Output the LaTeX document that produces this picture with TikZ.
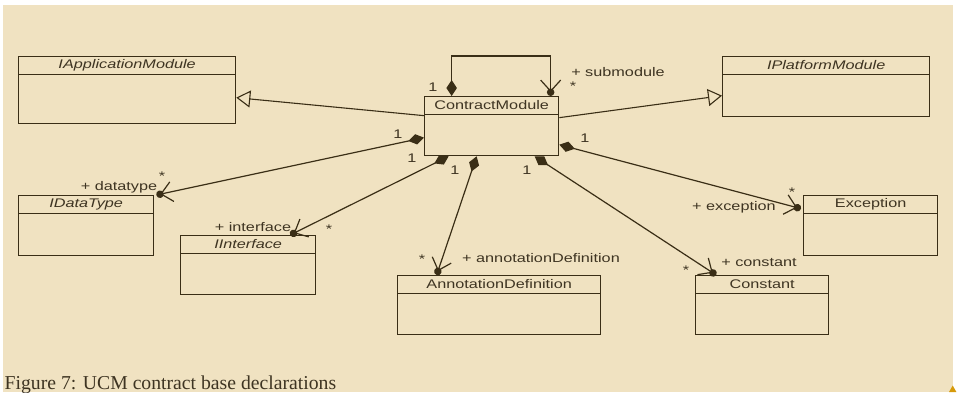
\documentclass[tikz,border=0pt]{standalone}
\usepackage{fontspec}
\setmainfont{Liberation Serif}
\newfontfamily\umlfont[FakeStretch=1.3]{Liberation Sans}
\usepackage{xcolor}
\usepackage{tikz}
\usetikzlibrary{arrows.meta,positioning,calc}

\definecolor{bgc}{RGB}{240,226,193}
\definecolor{linec}{RGB}{58,46,22}
\definecolor{textc}{RGB}{62,52,34}
\definecolor{markc}{RGB}{214,154,10}

\tikzset{
  umlbox/.style={draw=linec, line width=1.3pt, anchor=north west, inner sep=0pt,
    path picture={\draw[linec, line width=1.1pt]
      ([yshift=-18pt]path picture bounding box.north west) --
      ([yshift=-18pt]path picture bounding box.north east);}},
  umltitle/.style={anchor=north, minimum height=18pt, inner sep=0pt,
    font=\umlfont\fontsize{12.5}{14}\selectfont, text=textc},
  lbl/.style={inner sep=0pt, font=\umlfont\fontsize{12.5}{14}\selectfont, text=textc},
  gen/.style={line width=1.1pt, draw=linec, -{Triangle[open,length=14pt,width=17pt]}},
  comp/.style={line width=1.2pt, draw=linec,
    {Diamond[length=16pt,width=10.5pt]}-{Straight Barb[length=11pt,width=20pt,sep=-3.5pt] Circle[length=7.5pt]}},
}

\begin{document}
\begin{tikzpicture}[x=1pt,y=-1pt]
    \useasboundingbox (0,0) rectangle (959,392);
    \fill[bgc] (3,5) rectangle (953,392);
    \fill[markc] (949,392) -- (952.7,385.5) -- (956.4,392) -- cycle;

    % Classes
    \node[umlbox, minimum width=217pt, minimum height=67pt] (appmod) at (18,56) {};
    \node[umltitle] (appmodt) at (appmod.north) {\itshape IApplicationModule};
    \node[umlbox, minimum width=207pt, minimum height=60pt] (platmod) at (722,56) {};
    \node[umltitle] (platmodt) at (platmod.north) {\itshape IPlatformModule};
    \node[umlbox, minimum width=134pt, minimum height=59pt] (cmod) at (424,96) {};
    \node[umltitle] (cmodt) at (cmod.north) {ContractModule};
    \node[umlbox, minimum width=135pt, minimum height=60pt] (dtype) at (18,195) {};
    \node[umltitle] (dtypet) at (dtype.north) {\itshape IDataType};
    \node[umlbox, minimum width=135pt, minimum height=59pt] (iface) at (180,235) {};
    \node[umltitle] (ifacet) at (iface.north) {\itshape IInterface};
    \node[umlbox, minimum width=203pt, minimum height=59pt] (anndef) at (397,275) {};
    \node[umltitle] (anndeft) at (anndef.north) {AnnotationDefinition};
    \node[umlbox, minimum width=134pt, minimum height=60pt] (excep) at (803,195) {};
    \node[umltitle] (exceptt) at (excep.north) {Exception};
    \node[umlbox, minimum width=133pt, minimum height=59pt] (const) at (695,275) {};
    \node[umltitle] (constt) at (const.north) {Constant};

    % Generalizations
    \draw[gen] ([yshift=10.5pt]cmod.west) -- ([yshift=-7.5pt]appmod.east);
    \draw[gen] ([yshift=8.5pt]cmod.east) -- ([yshift=-9pt]platmod.west);

    % Compositions
    \draw[comp] ([xshift=-40pt]cmod.north) -- ++(0,-40) -| ([xshift=59pt]cmod.north);
    \draw[comp] ([yshift=-11.5pt]cmod.west) -- ([xshift=2pt]dtype.north east);
    \draw[comp] ([xshift=-43pt]cmod.south) -- ([xshift=42pt]iface.north);
    \draw[comp] ([xshift=-15pt]cmod.south) -- ([xshift=-62.5pt]anndef.north);
    \draw[comp] ([xshift=43pt]cmod.south) -- ([xshift=-46pt]const.north);
    \draw[comp] ([yshift=-18.5pt]cmod.east) -- ([xshift=-2pt,yshift=17pt]excep.west);

    % Role names and multiplicities
    \node[lbl] (m1) at (433,87) {1};
    \node[lbl] (subr) at (618,72) {+ submodule};
    \node[lbl] (m2) at (573,86) {*};
    \node[lbl] (m3) at (398,134) {1};
    \node[lbl] (m4) at (162,176) {*};
    \node[lbl] (dtr) at (119,187) {+ datatype};
    \node[lbl] (m5) at (412,158) {1};
    \node[lbl] (m6) at (329,229) {*};
    \node[lbl] (ifr) at (253,227) {+ interface};
    \node[lbl] (m7) at (455,170) {1};
    \node[lbl] (m8) at (422,259) {*};
    \node[lbl] (adr) at (541,258) {+ annotationDefinition};
    \node[lbl] (m9) at (527,170) {1};
    \node[lbl] (m10) at (686,270) {*};
    \node[lbl] (cor) at (759,263) {+ constant};
    \node[lbl] (m11) at (585,138) {1};
    \node[lbl] (m12) at (792,192) {*};
    \node[lbl] (exr) at (734,207) {+ exception};

    % Caption
    \node[anchor=base west, inner sep=0pt, text=textc, font=\fontsize{19.7}{22}\selectfont] (caption) at (4.5,389.5) {Figure 7: UCM contract base declarations};
\end{tikzpicture}
\end{document}
